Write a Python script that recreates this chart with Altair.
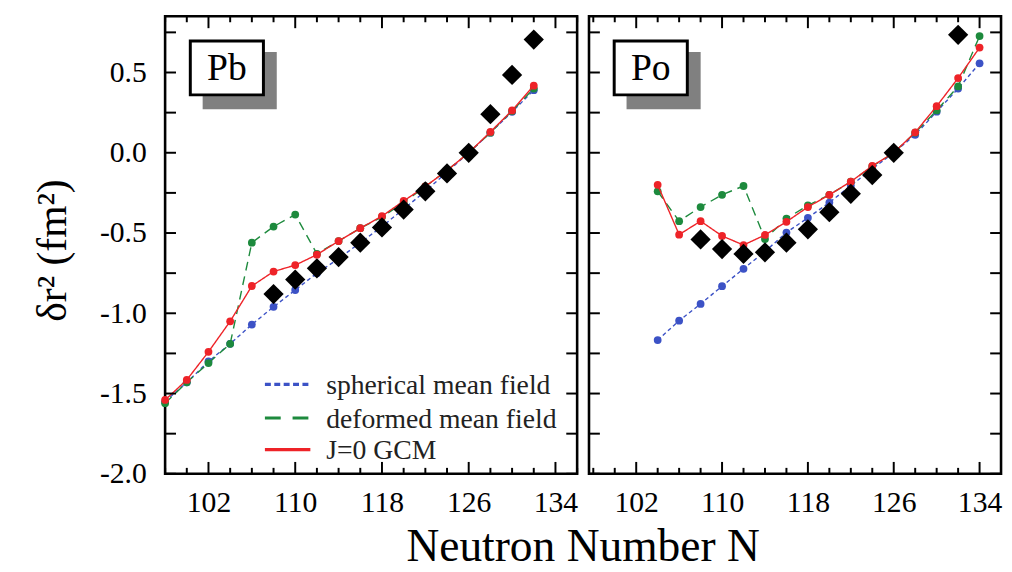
import altair as alt
import pandas as pd

# ---------------- data ----------------
SERIES = ["spherical mean field", "deformed mean field", "J=0 GCM"]

N_PB = [98, 100, 102, 104, 106, 108, 110, 112, 114, 116, 118, 120, 122, 124, 126, 128, 130, 132]
PB_SPHERICAL = [-1.55, -1.43, -1.30, -1.19, -1.07, -0.96, -0.855, -0.75, -0.66, -0.56, -0.46, -0.35, -0.24, -0.12, 0.0, 0.125, 0.255, 0.39]
PB_DEFORMED = [-1.56, -1.43, -1.31, -1.19, -0.56, -0.46, -0.385, -0.63, -0.55, -0.47, -0.40, -0.31, -0.21, -0.11, 0.0, 0.125, 0.26, 0.40]
PB_GCM = [-1.54, -1.415, -1.24, -1.05, -0.83, -0.74, -0.70, -0.635, -0.55, -0.47, -0.395, -0.30, -0.21, -0.11, 0.0, 0.13, 0.264, 0.418]
N_PB_EXP = [108, 110, 112, 114, 116, 118, 120, 122, 124, 126, 128, 130, 132]
PB_EXP = [-0.88, -0.79, -0.72, -0.65, -0.56, -0.465, -0.354, -0.24, -0.129, 0.0, 0.24, 0.485, 0.705]

N_PO = [104, 106, 108, 110, 112, 114, 116, 118, 120, 122, 124, 126, 128, 130, 132, 134]
PO_SPHERICAL = [-1.167, -1.046, -0.942, -0.831, -0.723, -0.615, -0.497, -0.405, -0.31, -0.205, -0.10, 0.0, 0.112, 0.256, 0.40, 0.557]
PO_DEFORMED = [-0.24, -0.426, -0.338, -0.262, -0.207, -0.538, -0.41, -0.328, -0.262, -0.18, -0.085, 0.0, 0.125, 0.264, 0.413, 0.727]
PO_GCM = [-0.20, -0.51, -0.426, -0.518, -0.575, -0.512, -0.43, -0.338, -0.262, -0.18, -0.082, 0.0, 0.127, 0.29, 0.465, 0.655]
N_PO_EXP = [108, 110, 112, 114, 116, 118, 120, 122, 124, 126, 132]
PO_EXP = [-0.54, -0.60, -0.63, -0.62, -0.56, -0.477, -0.37, -0.256, -0.139, 0.0, 0.735]

X_DOMAIN_PB = [98, 136]
X_DOMAIN_PO = [97.6, 136]
Y_DOMAIN = [-2.0, 0.85]
X_MAJOR = [102, 110, 118, 126, 134]
X_MINOR = [n for n in range(98, 137, 2) if n not in X_MAJOR]
Y_TICKS = [-2.0, -1.75, -1.5, -1.25, -1.0, -0.75, -0.5, -0.25, 0.0, 0.25, 0.5, 0.75]
Y_LABELS = [-2.0, -1.5, -1.0, -0.5, 0.0, 0.5]

# ---------------- style ----------------
FONT = "Liberation Serif"
COLORS = ["#3c52c6", "#1d8a3d", "#ee2328"]
LINE_DASH = [[4, 3], [9, 6], [1, 0]]
LEGEND_DASH = [[6, 3.5], [16, 12], [1, 0]]
W, H = 417, 463


def x_enc(dom):
    return alt.X("N:Q", scale=alt.Scale(domain=dom, nice=False, zero=False),
                 axis=alt.Axis(values=X_MAJOR, ticks=False, domain=False, grid=False,
                               labelFont=FONT, labelFontSize=30, labelColor="black",
                               labelPadding=14, title=None, format="d"))


def y_enc(show):
    if show:
        ax = alt.Axis(values=Y_LABELS, ticks=False, domain=False, grid=False,
                      labelFont=FONT, labelFontSize=30, labelColor="black", labelPadding=19,
                      labelExpr="replace(format(datum.value, '.1f'), '\u2212', '-')", title=None)
    else:
        ax = None
    return alt.Y("value:Q", scale=alt.Scale(domain=Y_DOMAIN, nice=False, zero=False), axis=ax)


def panel(n, curves, n_exp, exp, label, first, dom):
    layers = []
    rows = []
    for s, vals in zip(SERIES, curves):
        for a, b in zip(n, vals):
            rows.append({"N": a, "value": b, "series": s})
    df = pd.DataFrame(rows)
    for i, s in enumerate(SERIES):
        sub = df[df.series == s]
        layers.append(alt.Chart(sub).mark_line(strokeWidth=1.4, strokeDash=LINE_DASH[i], color=COLORS[i])
                      .encode(x=x_enc(dom), y=y_enc(first)))
        layers.append(alt.Chart(sub).mark_point(shape="circle", filled=True, size=62, opacity=1, color=COLORS[i])
                      .encode(x=x_enc(dom), y=y_enc(first)))
    expdf = pd.DataFrame({"N": n_exp, "value": exp})
    layers.append(alt.Chart(expdf).mark_point(shape="diamond", filled=True, size=420, opacity=1, color="black")
                  .encode(x=x_enc(dom), y=y_enc(first)))

    # inward ticks
    xmaj = pd.DataFrame({"N": X_MAJOR})
    xmin = pd.DataFrame({"N": X_MINOR})
    for d, ln in ((xmaj, 12), (xmin, 6)):
        layers.append(alt.Chart(d).mark_rule(color="black", strokeWidth=2)
                      .encode(x=x_enc(dom), y=alt.value(H), y2=alt.value(H - ln)))
        layers.append(alt.Chart(d).mark_rule(color="black", strokeWidth=2)
                      .encode(x=x_enc(dom), y=alt.value(0), y2=alt.value(ln)))
    yt = pd.DataFrame({"value": Y_TICKS})
    layers.append(alt.Chart(yt).mark_rule(color="black", strokeWidth=2)
                  .encode(y=y_enc(first), x=alt.value(0), x2=alt.value(11)))
    layers.append(alt.Chart(yt).mark_rule(color="black", strokeWidth=2)
                  .encode(y=y_enc(first), x=alt.value(W), x2=alt.value(W - 11)))

    # label box with shadow
    lab = pd.DataFrame({"label": [label]})
    layers.append(alt.Chart(lab).mark_rect(color="#808080")
                  .encode(x=alt.value(38), x2=alt.value(113), y=alt.value(36), y2=alt.value(94)))
    layers.append(alt.Chart(lab).mark_rect(fill="white", stroke="black", strokeWidth=3)
                  .encode(x=alt.value(25.5), x2=alt.value(99.5), y=alt.value(25), y2=alt.value(79.5)))
    layers.append(alt.Chart(lab).mark_text(font=FONT, fontSize=38, color="black", align="center", baseline="middle")
                  .encode(x=alt.value(62.5), y=alt.value(53), text="label:N"))

    if first:
        ys = [372.5, 406.5, 438.5]
        for i, s in enumerate(SERIES):
            d = pd.DataFrame({"series": [s]})
            layers.append(alt.Chart(d).mark_rule(color=COLORS[i], strokeWidth=3.2, strokeDash=LEGEND_DASH[i])
                          .encode(x=alt.value(101), x2=alt.value(147), y=alt.value(ys[i])))
            layers.append(alt.Chart(d).mark_text(font=FONT, fontSize=28, color="#222222", align="left",
                                                 baseline="middle")
                          .encode(x=alt.value(163), y=alt.value(ys[i] + 2), text="series:N"))
        t = pd.DataFrame({"t": ["\u03b4r\u00b2 (fm\u00b2)"]})
        layers.append(alt.Chart(t).mark_text(font=FONT, fontSize=42, color="black", angle=270,
                                             align="center", baseline="middle")
                      .encode(x=alt.value(-113), y=alt.value(237), text="t:N"))
        t2 = pd.DataFrame({"t": ["Neutron Number N"]})
        layers.append(alt.Chart(t2).mark_text(font=FONT, fontSize=46, color="black",
                                              align="center", baseline="alphabetic")
                      .encode(x=alt.value(423), y=alt.value(551), text="t:N"))

    return alt.layer(*layers).properties(width=W, height=H)


left = panel(N_PB, [PB_SPHERICAL, PB_DEFORMED, PB_GCM], N_PB_EXP, PB_EXP, "Pb", True, X_DOMAIN_PB)
right = panel(N_PO, [PO_SPHERICAL, PO_DEFORMED, PO_GCM], N_PO_EXP, PO_EXP, "Po", False, X_DOMAIN_PO)

chart = (alt.hconcat(left, right, spacing=12, bounds="flush")
         .resolve_scale(x="independent", y="shared")
         .properties(padding={"left": 23, "top": 2, "right": 0, "bottom": 0}, background="white")
         .configure_view(stroke="black", strokeWidth=2.6))

chart.save("out.html", embed_options={"renderer": "svg", "actions": False})
